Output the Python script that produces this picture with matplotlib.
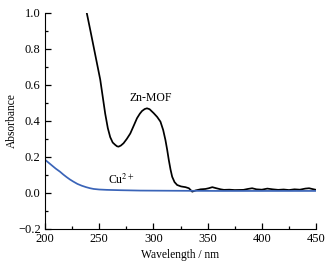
import numpy as np
import matplotlib
matplotlib.use("Agg")
import matplotlib.pyplot as plt
from matplotlib.ticker import MultipleLocator

# Zn-MOF spectrum
zn_wl = [238.6, 242, 246, 251, 255.6, 258, 260.2, 262.5, 264.8, 266.5, 267.9, 270, 272.5, 275.5, 278.7, 282, 284.9, 287.5,
         289.5, 292, 294.1, 296.5, 300.3, 303.5, 306.5, 309, 311.1, 312.7, 314.2, 315.8, 317.3, 319.5, 321.9, 325.5,
         329.6, 332.7, 335.8, 339, 343.5, 348, 351, 354.3, 358, 362, 365, 370, 375, 383, 387, 391, 395, 400, 405,
         410, 415, 420, 425, 430, 435, 440, 443.5, 447, 450]
zn_abs = [1.0, 0.9, 0.78, 0.63, 0.44, 0.36, 0.31, 0.28, 0.267, 0.259, 0.257, 0.263, 0.276, 0.3, 0.33, 0.375, 0.415, 0.44,
          0.455, 0.466, 0.47, 0.465, 0.443, 0.422, 0.396, 0.35, 0.294, 0.24, 0.183, 0.13, 0.09, 0.06, 0.044, 0.036,
          0.032, 0.026, 0.007, 0.014, 0.02, 0.022, 0.026, 0.032, 0.026, 0.02, 0.017, 0.018, 0.016, 0.017, 0.022,
          0.026, 0.02, 0.018, 0.024, 0.02, 0.017, 0.019, 0.016, 0.02, 0.018, 0.024, 0.026, 0.021, 0.017]

# Cu2+ spectrum
cu_wl = [200, 204, 207, 210, 213.9, 217, 220, 223, 226.2, 230, 234, 238, 241.7, 245, 250, 257, 270, 288, 320, 360, 400, 450]
cu_abs = [0.185, 0.165, 0.15, 0.135, 0.118, 0.102, 0.088, 0.075, 0.063, 0.05, 0.04, 0.032, 0.026, 0.022, 0.019,
          0.017, 0.015, 0.013, 0.012, 0.011, 0.011, 0.011]

plt.rcParams['font.family'] = ['Liberation Serif', 'DejaVu Serif']
plt.rcParams['mathtext.fontset'] = 'stix'

fig = plt.figure(figsize=(3.3, 2.69), dpi=100)
ax = fig.add_axes([0.136, 0.149, 0.822, 0.803])

ax.plot(zn_wl, zn_abs, color='black', lw=1.25, solid_joinstyle='round')
ax.plot(cu_wl, cu_abs, color='#3a64b8', lw=1.25, solid_joinstyle='round')

ax.text(298, 0.53, 'Zn-MOF', fontsize=8.5, ha='center', va='center')
ax.text(270, 0.072, 'Cu$^{2+}$', fontsize=8.5, ha='center', va='center')

ax.set_xlim(200, 450)
ax.set_ylim(-0.2, 1.0)
ax.xaxis.set_major_locator(MultipleLocator(50))
ax.xaxis.set_minor_locator(MultipleLocator(25))
ax.yaxis.set_minor_locator(MultipleLocator(0.1))
ax.set_yticks(np.arange(-0.2, 1.01, 0.2))
ax.set_yticklabels(['\u22120.2', '0.0', '0.2', '0.4', '0.6', '0.8', '1.0'])

ax.spines['top'].set_visible(False)
ax.spines['right'].set_visible(False)
ax.tick_params(which='both', direction='in', labelsize=9, width=0.9)
ax.tick_params(which='major', length=4, pad=3)
ax.tick_params(which='minor', length=2)

ax.set_xlabel('Wavelength / nm', fontsize=8.3, labelpad=3)
ax.set_ylabel('Absorbance', fontsize=8.3)
ax.yaxis.set_label_coords(-0.1, 0.5)

fig.savefig('out.png', dpi=100)
